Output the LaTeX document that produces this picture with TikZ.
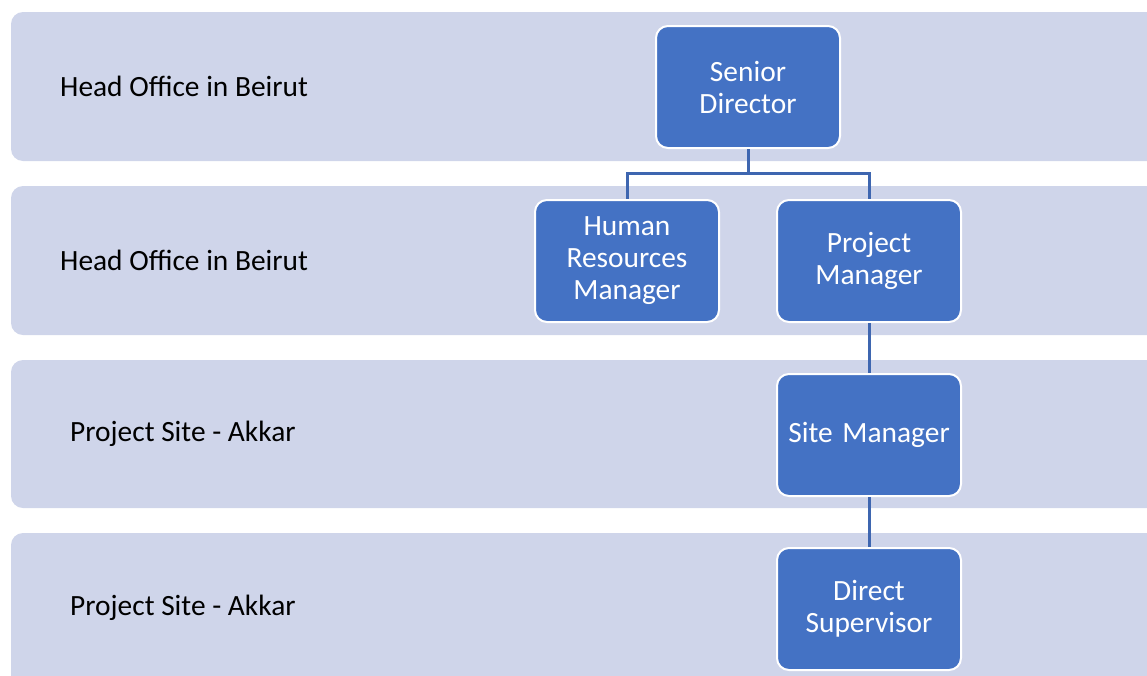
\documentclass[tikz,border=0pt]{standalone}
\usepackage{fontspec}
\setmainfont{Carlito}
\definecolor{bandfill}{HTML}{CFD5EA}
\definecolor{boxfill}{HTML}{4472C4}
\definecolor{linkblue}{HTML}{3E66B0}
\tikzset{
  band/.style={fill=bandfill, rounded corners=12pt},
  lbl/.style={anchor=west, inner sep=0pt, font=\fontsize{29.4}{32}\selectfont},
  post/.style={draw=white, line width=2pt, fill=boxfill, rounded corners=12pt,
    minimum width=184pt, minimum height=122pt, text width=176pt, align=center,
    text=white, inner sep=0pt, font=\fontsize{29.4}{32}\selectfont},
  link/.style={draw=linkblue, line width=3pt}
}
\begin{document}
\begin{tikzpicture}[x=1pt, y=-1pt]
      \useasboundingbox (0,0) rectangle (1147,675);
      \clip (0,0) rectangle (1147,675);
      \fill[band] (11,12) rectangle (1170,161);
      \fill[band] (11,186) rectangle (1170,335);
      \fill[band] (11,360) rectangle (1170,508);
      \fill[band] (11,533) rectangle (1170,700);
      \draw
        (60,86) node[lbl] (l1){Head Office in Beirut}
        (60,260) node[lbl] (l2){Head Office in Beirut}
        (70,434) node[lbl] (l3){Project Site - Akkar}
        (70,608) node[lbl] (l4){Project Site - Akkar};
      \draw
        (748,87) node[post] (sd){Senior\\Director}
        (627,261) node[post] (hr){Human\\Resources\\Manager}
        (869,261) node[post] (pm){Project\\Manager}
        (869,435) node[post] (sm){Site Manager}
        (869,609) node[post] (ds){Direct\\Supervisor};
      \coordinate (fork) at (748,173);
      \begin{scope}[link]
        \draw (sd) to (fork);
        \draw (fork) -| (hr);
        \draw (fork) -| (pm);
        \draw (pm) to (sm);
        \draw (sm) to (ds);
      \end{scope}
\end{tikzpicture}
\end{document}
